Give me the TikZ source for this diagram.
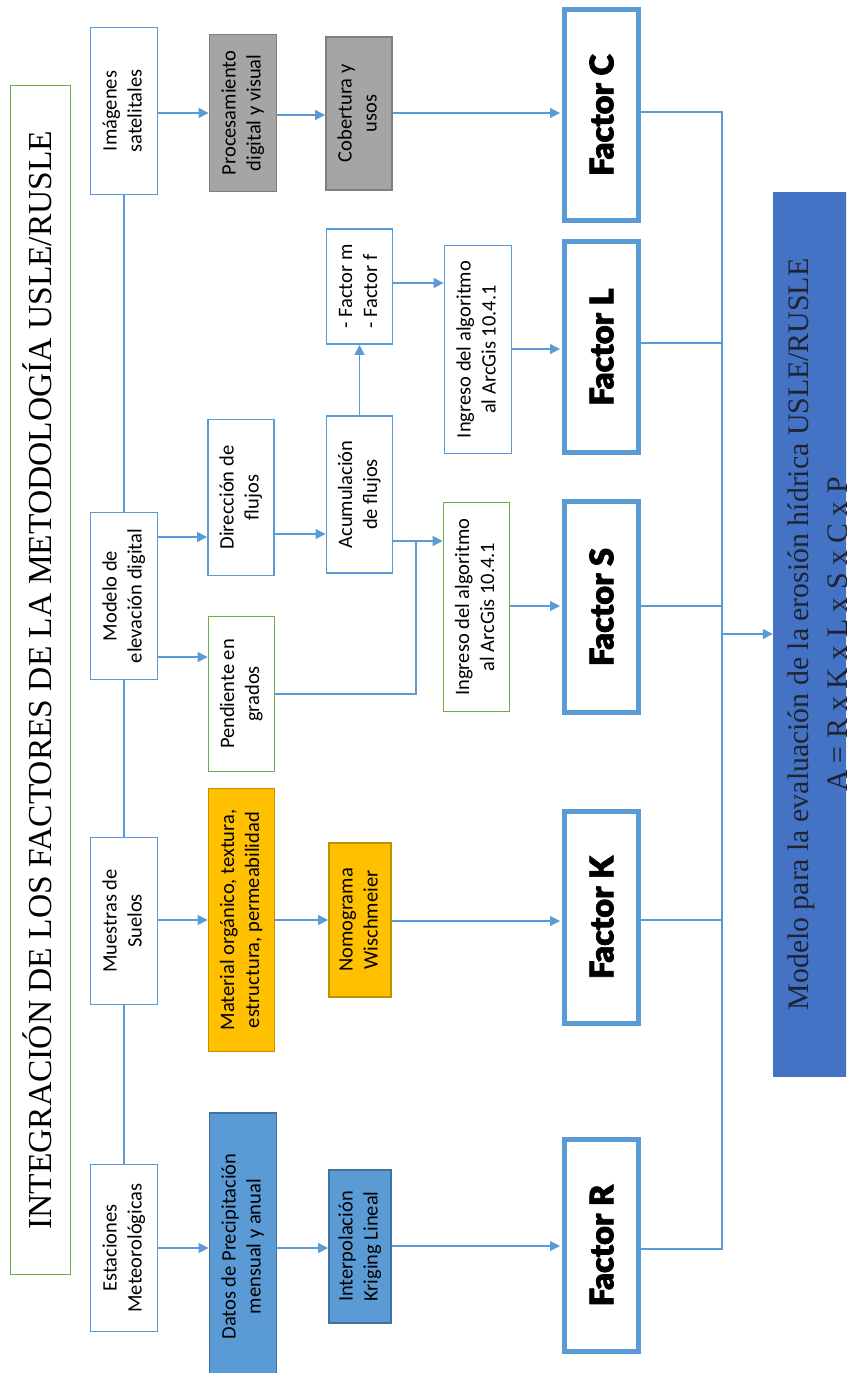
\documentclass[tikz,border=0pt]{standalone}
\usepackage{fontspec}
\usepackage{graphicx}
\usetikzlibrary{arrows.meta}
\setmainfont{Carlito}
\newfontfamily\serifface{Liberation Serif}
\IfFontExistsTF{FiraSans-Black.otf}
  {\newfontfamily\heavyface{FiraSans-Black.otf}[FakeBold=1.5]}
  {\IfFontExistsTF{Lato Black}
    {\newfontfamily\heavyface{Lato Black}[FakeBold=2.2]}
    {\IfFontExistsTF{Poppins Black}
      {\newfontfamily\heavyface{Poppins Black}}
      {\newfontfamily\heavyface{Liberation Sans Bold}[FakeBold=2.5]}}}

\definecolor{lineblue}{HTML}{5B9BD5}
\definecolor{leafgreen}{HTML}{70AD47}
\definecolor{greyfill}{HTML}{A5A5A5}
\definecolor{greyedge}{HTML}{7F7F7F}
\definecolor{amber}{HTML}{FFC000}
\definecolor{amberedge}{HTML}{BF9000}
\definecolor{skyfill}{HTML}{5B9BD5}
\definecolor{skyedge}{HTML}{41719C}
\definecolor{modelblue}{HTML}{4472C4}
\definecolor{modeltext}{HTML}{1E2433}

% text set sideways, read from bottom to top
\newcommand\sideways[1]{\rotatebox{90}{\begin{tabular}{@{}c@{}}#1\end{tabular}}}
\newcommand\sidewaysleft[1]{\rotatebox{90}{\begin{tabular}{@{}l@{}}#1\end{tabular}}}
\newcommand\capline[1]{\rotatebox{90}{\raisebox{0pt}[\fontcharht\font`H][0pt]{#1}}}

\tikzset{
  plainbox/.style={draw=lineblue, line width=1.8pt, fill=white, inner sep=0pt,
    font=\fontsize{20.5}{25}\selectfont},
  greenbox/.style={plainbox, draw=leafgreen},
  greybox/.style={plainbox, draw=greyedge, fill=greyfill},
  amberbox/.style={plainbox, draw=amberedge, fill=amber},
  skybox/.style={plainbox, draw=skyedge, fill=skyfill},
  factorbox/.style={draw=lineblue, line width=5pt, fill=white, inner sep=0pt,
    minimum width=74pt, minimum height=211pt,
    font=\heavyface\fontsize{32.5}{38}\selectfont},
  link/.style={draw=lineblue, line width=1.1pt},
  arrowlink/.style={link, -{Triangle[length=10pt,width=10pt]}},
}

\begin{document}
\begin{tikzpicture}[x=1pt,y=-1pt]
\useasboundingbox (0,0) rectangle (846,1373);
\clip (0,0) rectangle (846,1373);

% heading
\node[draw=leafgreen, line width=1.8pt, inner sep=0pt, minimum width=60pt, minimum height=1189pt,
  font=\serifface\fontsize{33.5}{40}\selectfont] (heading) at (40.5,680)
  {\capline{INTEGRACIÓN DE LOS FACTORES DE LA METODOLOGÍA USLE/RUSLE}};

% data sources
\node[plainbox, minimum width=67pt, minimum height=167pt] (sat) at (124,111) {\sideways{Imágenes\\satelitales}};
\node[plainbox, minimum width=67pt, minimum height=167pt] (dem) at (124,596) {\sideways{Modelo de\\elevación digital}};
\node[plainbox, minimum width=67pt, minimum height=167pt] (soil) at (124,921) {\sideways{Muestras de\\Suelos}};
\node[plainbox, minimum width=67pt, minimum height=167pt] (met) at (124,1248) {\sideways{Estaciones\\Meteorológicas}};

% first processing step
\node[greybox, minimum width=67pt, minimum height=157pt] (proc) at (243,113) {\sideways{Procesamiento\\digital y visual}};
\node[plainbox, minimum width=66pt, minimum height=156pt] (fdir) at (241,497.5) {\sideways{Dirección de\\flujos}};
\node[greenbox, minimum width=66pt, minimum height=155pt] (slope) at (241.5,694) {\sideways{Pendiente en\\grados}};
\node[amberbox, minimum width=66pt, minimum height=263pt] (tex) at (241.5,920) {\sideways{Material orgánico, textura,\\estructura, permeabilidad}};
\node[skybox, minimum width=67pt, minimum height=267pt] (rain) at (243,1246.5) {\sideways{Datos de Precipitación\\mensual y anual}};

% second processing step
\node[greybox, minimum width=66pt, minimum height=153pt] (cover) at (359,113.5) {\sideways{Cobertura y\\usos}};
\node[plainbox, minimum width=66pt, minimum height=115pt] (mf) at (359.5,286.5) {\sidewaysleft{- Factor m\\- Factor f}};
\node[plainbox, minimum width=66pt, minimum height=157pt] (facc) at (359.5,494.5) {\sideways{Acumulación\\de flujos}};
\node[amberbox, minimum width=62pt, minimum height=154pt] (nomo) at (360,920) {\sideways{Nomograma\\Wischmeier}};
\node[skybox, minimum width=62pt, minimum height=153pt] (krig) at (360,1246.5) {\sideways{Interpolación\\Kriging Lineal}};

% ArcGis steps
\node[plainbox, minimum width=67pt, minimum height=208pt] (arcL) at (478,349.5) {\sideways{Ingreso del algoritmo\\al ArcGis 10.4.1}};
\node[greenbox, minimum width=66pt, minimum height=209pt] (arcS) at (476.5,607) {\sideways{Ingreso del algoritmo\\al ArcGis 10.4.1}};

% factors
\node[factorbox] (fC) at (601.5,115) {\capline{Factor C}};
\node[factorbox] (fL) at (601.5,347) {\capline{Factor L}};
\node[factorbox] (fS) at (601.5,607) {\capline{Factor S}};
\node[factorbox, minimum height=212pt] (fK) at (601.5,917.5) {\capline{Factor K}};
\node[factorbox, minimum height=212pt] (fR) at (601.5,1245.5) {\capline{Factor R}};

% erosion model
\node[fill=modelblue, inner sep=0pt, minimum width=94pt, minimum height=885pt,
  text=modeltext, font=\serifface\fontsize{29.8}{39.5}\selectfont] (model) at (820,634.5)
  {\sideways{Modelo para la evaluación de la erosión hídrica USLE/RUSLE\\A = R x K x L x S x C x P}};

% source spine
\draw[link] (sat.south) -- (dem.north);
\draw[link] (dem.south) -- (soil.north);
\draw[link] (soil.south) -- (met.north);

% cover factor chain
\draw[arrowlink] (sat.east |- 0,113) -- (proc.west |- 0,113);
\draw[arrowlink] (proc.east |- 0,115) -- (cover.west |- 0,115);
\draw[arrowlink, shorten >=2pt] (cover.east |- 0,113) -- (fC.west |- 0,113);

% terrain chain
\draw[arrowlink] (dem.east |- 0,537) -- (fdir.west |- 0,537);
\draw[arrowlink] (dem.east |- 0,657) -- (slope.west |- 0,657);
\draw[arrowlink] (fdir.east |- 0,534) -- (facc.west |- 0,534);
\draw[arrowlink] (facc.north) -- (mf.south);
\draw[arrowlink] (mf.east |- 0,283) -- (arcL.west |- 0,283);
\draw[arrowlink, shorten >=2pt] (arcL.east |- 0,349) -- (fL.west |- 0,349);
\coordinate (merge) at (416,541);
\draw[arrowlink] (facc.east |- 0,541) -- (arcS.west |- 0,541);
\draw[link] (slope.east) -| (merge);
\draw[arrowlink, shorten >=2pt] (arcS.east |- 0,606) -- (fS.west |- 0,606);

% soil chain
\draw[arrowlink] (soil.east |- 0,920) -- (tex.west |- 0,920);
\draw[arrowlink] (tex.east |- 0,920) -- (nomo.west |- 0,920);
\draw[arrowlink, shorten >=2pt] (nomo.east |- 0,921) -- (fK.west |- 0,921);

% rainfall chain
\draw[arrowlink] (met.east |- 0,1248) -- (rain.west |- 0,1248);
\draw[arrowlink] (rain.east |- 0,1248) -- (krig.west |- 0,1248);
\draw[arrowlink, shorten >=2pt] (krig.east |- 0,1246) -- (fR.west |- 0,1246);

% collector into the model
\coordinate (busTop) at (722,112);
\coordinate (busBottom) at (722,1249);
\draw[link] (fC.east |- busTop) -- (busTop) -- (busBottom) -- (fR.east |- busBottom);
\draw[link] (fL.east |- 0,343) -- (busTop |- 0,343);
\draw[link] (fS.east |- 0,606) -- (busTop |- 0,606);
\draw[link] (fK.east |- 0,920) -- (busTop |- 0,920);
\draw[arrowlink] (busTop |- 0,634) -- (model.west |- 0,634);
\end{tikzpicture}
\end{document}
